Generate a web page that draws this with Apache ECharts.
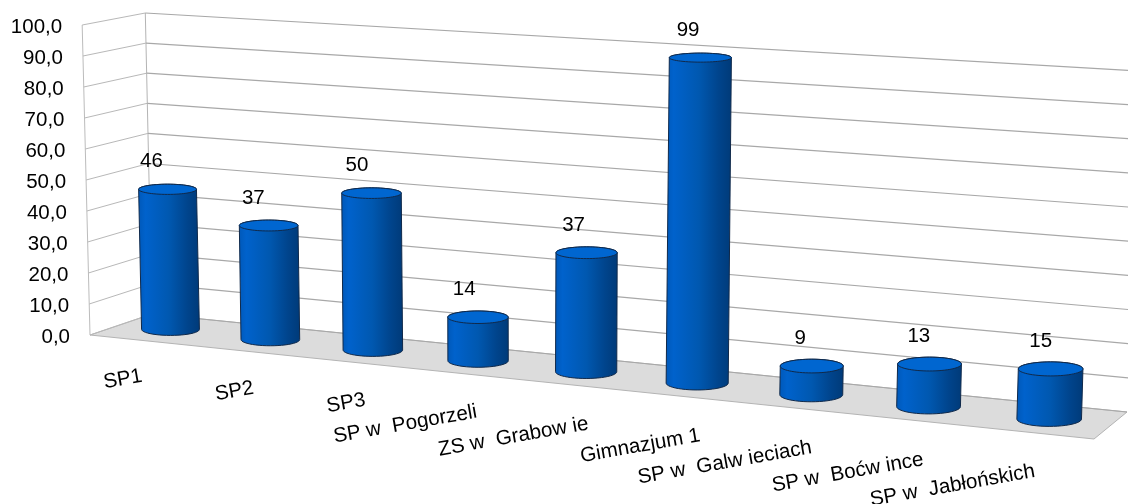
<!DOCTYPE html>
<html>
<head>
<meta charset="utf-8">
<style>
    html, body { margin: 0; padding: 0; background: #fff; }
    #chart { width: 1128px; height: 504px; }
</style>
<script src="https://cdn.jsdelivr.net/npm/echarts@6/dist/echarts.min.js"></script>
</head>
<body>
<div id="chart"></div>
<script>
var categories = ['SP1', 'SP2', 'SP3', 'SP w  Pogorzeli', 'ZS w  Grabow ie', 'Gimnazjum 1', 'SP w  Galw ieciach', 'SP w  Boćw ince', 'SP w  Jabłońskich'];
var values = [46, 37, 50, 14, 37, 99, 9, 13, 15];
var yTicks = [0, 10, 20, 30, 40, 50, 60, 70, 80, 90, 100];
var yTickLabels = ['0,0', '10,0', '20,0', '30,0', '40,0', '50,0', '60,0', '70,0', '80,0', '90,0', '100,0'];

/* corners of the 3d box on screen: front left, front right, back right, back left */
var floorQuad = [[90, 335], [1094, 439], [1127, 412], [152, 314]];
var topQuad = [[83, 25], [1106, 88], [1139, 71], [145, 13]];
var barDepth = 0.5;
var fontName = '"Liberation Sans", Arial, sans-serif';

var floorMap = quadMap(floorQuad);
var topMap = quadMap(topQuad);

/* unit square -> quad (perspective) */
function quadMap(q) {
    var x0 = q[0][0], y0 = q[0][1], x1 = q[1][0], y1 = q[1][1];
    var x2 = q[2][0], y2 = q[2][1], x3 = q[3][0], y3 = q[3][1];
    var sx = x0 - x1 + x2 - x3, sy = y0 - y1 + y2 - y3;
    var dx1 = x1 - x2, dx2 = x3 - x2, dy1 = y1 - y2, dy2 = y3 - y2;
    var det = dx1 * dy2 - dx2 * dy1;
    var g = (sx * dy2 - dx2 * sy) / det;
    var h = (dx1 * sy - sx * dy1) / det;
    var a = x1 - x0 + g * x1, b = x3 - x0 + h * x3;
    var d = y1 - y0 + g * y1, e = y3 - y0 + h * y3;
    return function (u, v) {
        var w = g * u + h * v + 1;
        return [(a * u + b * v + x0) / w, (d * u + e * v + y0) / w];
    };
}

/* verticals fan out: x drift at full height grows away from the middle */
function project(u, v, val) {
    var f = floorMap(u, v), t = topMap(u, v), k = val / 100;
    var lean = (f[0] - 520) * 0.0182;
    return [f[0] + lean * k, f[1] + (t[1] - f[1]) * k];
}

/* grid position from the hidden axes -> u and value */
function readCoord(params, api, cat, val) {
    var cs = params.coordSys;
    var p = api.coord([cat, val]);
    return {
        u: (p[0] - cs.x) / cs.width,
        val: (cs.y + cs.height - p[1]) / cs.height * 100
    };
}

function renderWalls() {
    var fl = project(0, 0, 0), fr = project(1, 0, 0), br = project(1, 1, 0), bl = project(0, 1, 0);
    var tl = project(0, 0, 100), tb = project(0, 1, 100);
    return {
        type: 'group',
        children: [
            { type: 'polygon', shape: { points: [fl, fr, br, bl] }, style: { fill: '#dcdcdc', stroke: '#b4b4b4', lineWidth: 1 } },
            { type: 'line', shape: { x1: fl[0], y1: fl[1], x2: tl[0], y2: tl[1] }, style: { stroke: '#bcbcbc', lineWidth: 1 } },
            { type: 'line', shape: { x1: bl[0], y1: bl[1], x2: tb[0], y2: tb[1] }, style: { stroke: '#b4b4b4', lineWidth: 1 } }
        ]
    };
}

function renderTick(params, api) {
    var val = readCoord(params, api, 0, api.value(0)).val;
    var a = project(0, 0, val), b = project(0, 1, val), c = project(1, 1, val);
    return {
        type: 'group',
        children: [
            { type: 'line', shape: { x1: a[0], y1: a[1], x2: b[0], y2: b[1] }, style: { stroke: '#b8b8b8', lineWidth: 1 } },
            { type: 'line', shape: { x1: b[0], y1: b[1], x2: c[0], y2: c[1] }, style: { stroke: '#a8a8a8', lineWidth: 1.2 } },
            {
                type: 'text',
                style: {
                    x: a[0] - 20, y: a[1] + 2,
                    text: yTickLabels[params.dataIndex],
                    fill: '#000', font: '20.5px ' + fontName,
                    align: 'right', verticalAlign: 'middle'
                }
            }
        ]
    };
}

function renderBar(params, api) {
    var r = readCoord(params, api, api.value(0), api.value(1));
    var u = r.u - 0.016 * r.u * (1 - r.u);
    var bottom = project(u, barDepth, 0);
    var top = project(u, barDepth, r.val);
    top[1] += 1.5;
    var scale = bottom[1] - project(u, barDepth, 100)[1];
    var rx = 0.094 * scale;
    var baseRy = 6 + 1.5 * u;
    var topRy = baseRy * (1 - 0.0035 * r.val);

    var body = [];
    var n = 24;
    for (var i = 0; i <= n; i++) {
        var a = Math.PI * i / n;
        body.push([top[0] - rx * Math.cos(a), top[1] - topRy * Math.sin(a)]);
    }
    for (var j = 0; j <= n; j++) {
        var b = Math.PI * j / n;
        body.push([bottom[0] + rx * Math.cos(b), bottom[1] + baseRy * Math.sin(b)]);
    }
    return {
        type: 'group',
        children: [
            {
                type: 'polygon',
                shape: { points: body },
                style: {
                    fill: new echarts.graphic.LinearGradient(0, 0, 1, 0, [
                        { offset: 0, color: '#0058b8' },
                        { offset: 0.12, color: '#0062cc' },
                        { offset: 0.5, color: '#0058b0' },
                        { offset: 0.8, color: '#00448c' },
                        { offset: 1, color: '#003a78' }
                    ]),
                    stroke: '#10294a', lineWidth: 1
                }
            },
            {
                type: 'ellipse',
                shape: { cx: top[0], cy: top[1], rx: rx, ry: topRy },
                style: { fill: '#0066d0', stroke: '#10294a', lineWidth: 1 }
            },
            {
                type: 'text',
                style: {
                    x: top[0] - 16.5 + 7 * u, y: top[1] - 27.5,
                    text: String(api.value(1)),
                    fill: '#000', font: '20.5px ' + fontName,
                    align: 'center', verticalAlign: 'middle'
                }
            }
        ]
    };
}

/* labels are tilted and hang from their right end */
function renderCategory(params, api) {
    var i = params.dataIndex;
    return {
        type: 'text',
        x: 142 + 111.6 * i,
        y: 376 + 11.9 * i,
        rotation: 10 * Math.PI / 180,
        style: {
            x: 0, y: 0,
            text: categories[i],
            fill: '#000', font: '20.6px ' + fontName,
            align: 'right', verticalAlign: 'middle'
        }
    };
}

var barData = [];
for (var i = 0; i < values.length; i++) {
    barData.push([i, values[i]]);
}

var chart = echarts.init(document.getElementById('chart'));
chart.setOption({
    animation: false,
    backgroundColor: '#fff',
    grid: { left: 0, right: 0, top: 0, bottom: 0, show: false },
    xAxis: { type: 'category', data: categories, show: false },
    yAxis: { type: 'value', min: 0, max: 100, interval: 10, show: false },
    series: [
        { type: 'custom', silent: true, z: 1, data: [0], renderItem: renderWalls },
        { type: 'custom', silent: true, z: 2, data: yTicks, encode: { y: 0 }, renderItem: renderTick },
        { type: 'custom', silent: true, z: 3, data: barData, encode: { x: 0, y: 1 }, renderItem: renderBar },
        { type: 'custom', silent: true, z: 3, data: barData, encode: { x: 0, y: 1 }, renderItem: renderCategory }
    ]
});
</script>
</body>
</html>
